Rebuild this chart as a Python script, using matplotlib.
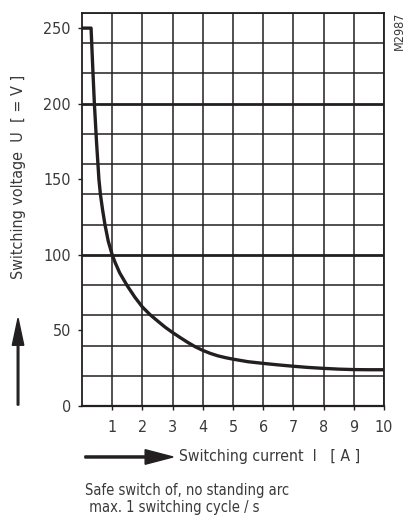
import matplotlib
matplotlib.use("Agg")
import matplotlib.pyplot as plt

plt.rcParams['font.family'] = ['DejaVu Sans']
plt.rcParams['font.stretch'] = 'condensed'

# switching current (A) and safe switching voltage (V)
current = [0, 0.3, 0.36, 0.41, 0.48, 0.56, 0.61, 0.68, 0.76, 0.87, 1.0, 1.1,
           1.25, 1.5, 1.75, 2.0, 2.25, 2.5, 2.75, 3.0, 3.25, 3.5, 3.75,
           4.0, 4.25, 4.5, 4.75, 5.0, 5.5, 6.0, 6.5, 7.0, 7.5, 8.0, 8.5,
           9.0, 9.5, 10.0]
voltage = [250, 250, 222, 200, 175, 150, 140, 130, 120, 109, 100, 94.8,
           88, 79.5, 72, 65.5, 60.5, 56.3, 52.2, 48.6, 45.3, 42.1, 39.2,
           36.8, 34.8, 33.2, 32, 31, 29.3, 28.2, 27.2, 26.3, 25.5, 24.9, 24.4,
           24.1, 24, 24]

x_ticks = [1, 2, 3, 4, 5, 6, 7, 8, 9, 10]
y_ticks = [0, 50, 100, 150, 200, 250]
grid_v = list(range(20, 261, 20))

ink = '#231f20'
txt = '#3a3a3a'

fig = plt.figure(figsize=(4.1, 5.2), dpi=100)
ax = fig.add_axes([0.2, 0.2192, 0.7366, 0.7558])

# grid
for v in grid_v:
    lw = 2.0 if v in (100, 200) else 1.1
    ax.axhline(v, color=ink, lw=lw, zorder=1)
for i in x_ticks:
    ax.axvline(i, color=ink, lw=1.1, zorder=1)

ax.plot(current, voltage, color=ink, lw=2.4, zorder=3, solid_joinstyle='round')

ax.set_xlim(0, 10)
ax.set_ylim(0, 260)
ax.set_xticks(x_ticks)
ax.set_yticks(y_ticks)
ax.tick_params(axis='both', direction='out', length=3, width=1, color=ink,
               labelsize=11.5, labelcolor=txt)
ax.tick_params(axis='x', pad=7)
ax.tick_params(axis='y', pad=5)
for s in ax.spines.values():
    s.set_color(ink)
    s.set_linewidth(1.3)
ax.spines['bottom'].set_linewidth(1.6)

fig.text(0.044, 0.66, 'Switching voltage  U  [ = V ]', rotation=90,
         ha='center', va='center', fontsize=11.5, color=txt)
fig.text(0.437, 0.1212, 'Switching current  I   [ A ]', ha='left', va='center',
         fontsize=11.3, color=txt)
fig.text(0.975, 0.977, 'M2987', rotation=90, ha='center', va='top',
         fontsize=9, color=txt)
fig.text(0.207, 0.040, 'Safe switch of, no standing arc\n max. 1 switching cycle / s',
         ha='left', va='center', fontsize=10.5, color=txt, linespacing=1.2)

# arrows
fig.patches.append(matplotlib.patches.FancyArrow(
    0.044, 0.221, 0, 0.167, width=0.004, head_width=0.028, head_length=0.052,
    length_includes_head=True, color=ink, transform=fig.transFigure, figure=fig))
fig.patches.append(matplotlib.patches.FancyArrow(
    0.207, 0.1212, 0.215, 0, width=0.004, head_width=0.028, head_length=0.068,
    length_includes_head=True, color=ink, transform=fig.transFigure, figure=fig))

fig.savefig('out.png', dpi=100)
